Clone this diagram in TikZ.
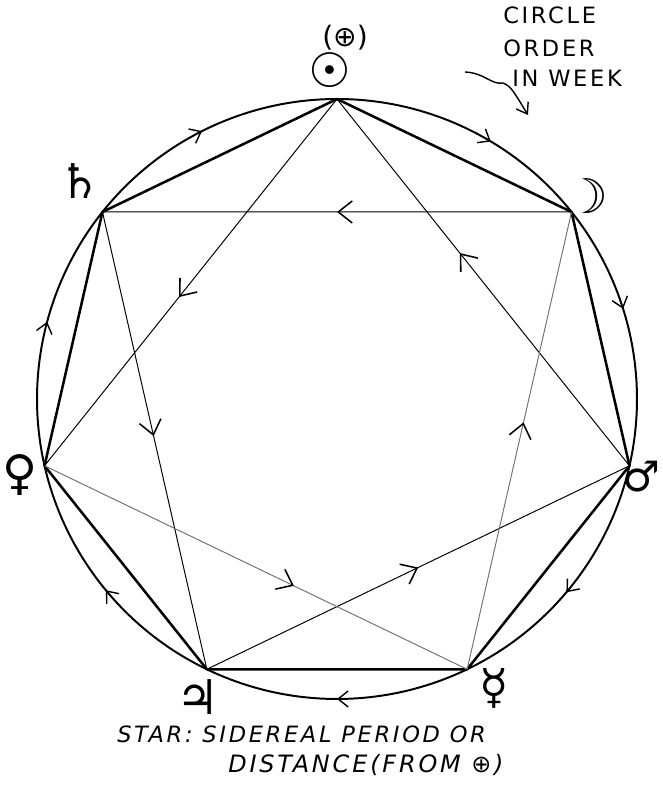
\documentclass[tikz,border=0pt]{standalone}
\usepackage{fontspec}
\setmainfont{DejaVu Sans}
\newfontfamily\symfont{DejaVu Sans}
\newfontfamily\handfont[LetterSpace=12]{DejaVu Sans}
\usetikzlibrary{arrows.meta}
\usetikzlibrary{decorations.markings}

\begin{document}
\begin{tikzpicture}[
    rim/.style={line width=1.4pt},
    side/.style={line width=1.8pt},
    chord/.style={line width=0.7pt},
    faint/.style={line width=0.7pt, black!55},
    planet/.style={font=\symfont\fontsize{34}{38}\selectfont, inner sep=0pt},
    note/.style={font=\handfont\fontsize{16}{18}\selectfont, inner sep=0pt, anchor=west},
    midarrow/.style={postaction={decorate, decoration={markings,
        mark=at position #1 with {\arrow[line width=1.1pt, black]{Straight Barb[length=3.5mm,width=5.5mm]}}}}},
    arcarrow/.style={postaction={decorate, decoration={markings,
        mark=at position #1 with {\arrow[line width=1pt]{Straight Barb[length=2.5mm,width=4mm]}}}}}
  ]
  		\useasboundingbox (-8.425,-9.65) rectangle (8.15,9.975);
  		\def\rad{7.5}

  		\coordinate (sun) at (90:\rad);
  		\coordinate (moon) at ({90-360/7}:\rad);
  		\coordinate (mars) at ({90-2*360/7}:\rad);
  		\coordinate (mercury) at ({90-3*360/7}:\rad);
  		\coordinate (jupiter) at ({90-4*360/7}:\rad);
  		\coordinate (venus) at ({90-5*360/7}:\rad);
  		\coordinate (saturn) at ({90-6*360/7}:\rad);

		\draw[rim, arcarrow=0.6] (sun) arc[start angle=90, delta angle=-360/7, radius=\rad];
		\draw[rim, arcarrow=0.41] (moon) arc[start angle={90-360/7}, delta angle=-360/7, radius=\rad];
		\draw[rim, arcarrow=0.53] (mars) arc[start angle={90-2*360/7}, delta angle=-360/7, radius=\rad];
		\draw[rim, arcarrow=0.5] (mercury) arc[start angle={90-3*360/7}, delta angle=-360/7, radius=\rad];
		\draw[rim, arcarrow=0.48] (jupiter) arc[start angle={90-4*360/7}, delta angle=-360/7, radius=\rad];
		\draw[rim, arcarrow=0.54] (venus) arc[start angle={90-5*360/7}, delta angle=-360/7, radius=\rad];
		\draw[rim, arcarrow=0.48] (saturn) arc[start angle={90-6*360/7}, delta angle=-360/7, radius=\rad];

		\draw[side, line join=round] (sun) -- (moon) -- (mars) -- (mercury) -- (jupiter) -- (venus) -- (saturn) -- cycle;

		\draw[chord, midarrow=0.49] (saturn) -- (jupiter);
		\draw[chord, midarrow=0.5] (jupiter) -- (mars);
		\draw[chord, midarrow=0.58] (mars) -- (sun);
		\draw[chord, midarrow=0.54] (sun) -- (venus);
		\draw[faint, midarrow=0.59] (venus) -- (mercury);
		\draw[faint, midarrow=0.54] (mercury) -- (moon);
		\draw[chord, midarrow=0.5] (moon) -- (saturn);

  		\node[planet] (sunlbl) at (-0.175,8.225) {☉};
  		\node[font=\symfont\fontsize{20}{22}\selectfont, inner sep=0pt] (earthlbl) at (0.2,9.025) {(⊕)};
  		\node[planet] (moonlbl) at (6.25,5.075) {☽};
  		\node[planet, font=\symfont\fontsize{30}{34}\selectfont] (marslbl) at (7.6,-1.95) {♂};
  		\node[planet] (mercurylbl) at (3.925,-7.225) {☿};
  		\node[planet] (jupiterlbl) at (-3.475,-7.45) {♃};
  		\node[planet] (venuslbl) at (-7.925,-1.9) {♀};
  		\node[planet] (saturnlbl) at (-6.425,5.45) {♄};

		\node[note] (circlelbl) at (4.15,9.6) {CIRCLE};
		\node[note] (orderlbl) at (4.15,8.775) {ORDER};
		\node[note] (weeklbl) at (4.375,8.025) {IN WEEK};
		\coordinate (notetail) at (3.2,8.175);
		\coordinate (notehead) at (4.775,7.1);
		\draw[line width=1pt, -{Straight Barb[length=2.5mm,width=3.5mm]}] (notetail) .. controls (3.7,8.15) and (3.85,7.85) .. (4.15,7.9) .. controls (4.35,7.8) .. (notehead);

		\node[note, font=\handfont\itshape\fontsize{16}{18}\selectfont] (startxt) at (-5.5,-8.375) {STAR: SIDEREAL PERIOD OR};
		\node[note, font=\handfont\itshape\fontsize{17}{19}\selectfont] (distxt) at (-2.725,-9.15) {DISTANCE(FROM ⊕)};
  	\end{tikzpicture}
\end{document}
